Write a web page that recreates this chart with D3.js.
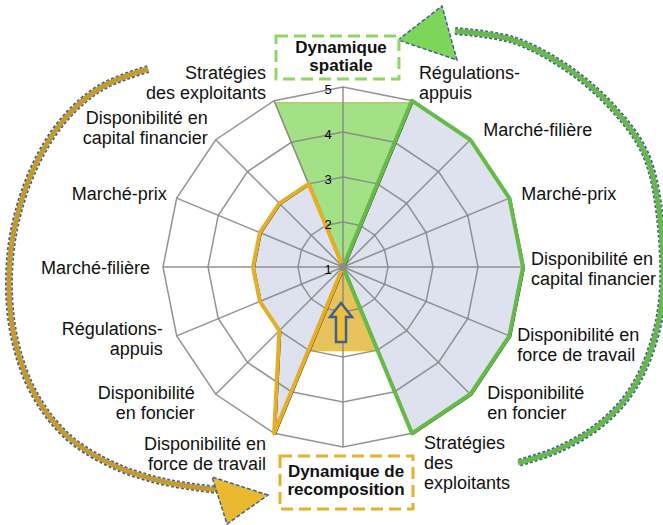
<!DOCTYPE html>
<html>
<head>
<meta charset="utf-8">
<script src="https://cdn.jsdelivr.net/npm/d3@7"></script>
<style>
  body { margin: 0; background: #fff; }
  svg text { font-family: "Liberation Sans", Arial, Helvetica, sans-serif; }
</style>
</head>
<body>
<div id="chart"></div>
<script>
// 16 axes, clockwise from the top; the top and bottom axes carry no label
const axisLabels = [
  [],
  ["Régulations-", "appuis"],
  ["Marché-filière"],
  ["Marché-prix"],
  ["Disponibilité en", "capital financier"],
  ["Disponibilité en", "force de travail"],
  ["Disponibilité", "en foncier"],
  ["Stratégies", "des", "exploitants"],
  [],
  ["Disponibilité en", "force de travail"],
  ["Disponibilité", "en foncier"],
  ["Régulations-", "appuis"],
  ["Marché-filière"],
  ["Marché-prix"],
  ["Disponibilité en", "capital financier"],
  ["Stratégies", "des exploitants"]
];
const ticks = [1, 2, 3, 4, 5];

// series (scale 1 to 5)
const overallValues   = [1, 5, 5, 5, 5, 5, 5, 5, 1, 5, 3, 3, 3, 3, 3, 3];
const spatialValues   = [1, 5, 5, 5, 5, 5, 5, 5, 1, 1, 1, 1, 1, 1, 1, 1];
const recompValues    = [1, 1, 1, 1, 1, 1, 1, 1, 1, 5, 3, 3, 3, 3, 3, 3];
// shaded sectors
const spatialSector   = [4.65, 4.95, 1, 1, 1, 1, 1, 1, 1, 1, 1, 1, 1, 1, 1, 4.95];
const recompSector    = [1, 1, 1, 1, 1, 1, 1, 3, 2.85, 3, 1, 1, 1, 1, 1, 1];

const width = 663, height = 525;
const cx = 343, cy = 267, radius = 180;
const n = axisLabels.length;

const svg = d3.select("#chart").append("svg")
  .attr("width", width)
  .attr("height", height);

const r = d3.scaleLinear().domain([1, 5]).range([0, radius]);
const angle = i => i * 2 * Math.PI / n;

const radar = d3.lineRadial()
  .angle((d, i) => angle(i))
  .radius(d => r(d))
  .curve(d3.curveLinearClosed);

const g = svg.append("g").attr("transform", `translate(${cx},${cy})`);

// fills
g.append("path").attr("d", radar(overallValues))
  .attr("fill", "#dde2ee").attr("stroke", "none");
g.append("path").attr("d", radar(spatialSector))
  .attr("fill", "#a2e186").attr("stroke", "#b2cc6c").attr("stroke-width", 1.5);
g.append("path").attr("d", radar(recompSector))
  .attr("fill", "#e8c25c").attr("stroke", "#f0c43a").attr("stroke-width", 2);

// grid
ticks.slice(1).forEach(t => {
  g.append("path")
    .attr("d", radar(d3.range(n).map(() => t)))
    .attr("fill", "none").attr("stroke", "#878787").attr("stroke-width", 1.5)
    .attr("opacity", 0.9);
});
d3.range(n).forEach(i => {
  const a = angle(i);
  g.append("line")
    .attr("x1", 0).attr("y1", 0)
    .attr("x2", r(5) * Math.sin(a)).attr("y2", -r(5) * Math.cos(a))
    .attr("stroke", "#878787").attr("stroke-width", 1.5).attr("opacity", 0.9);
});

// lines
g.append("path").attr("d", radar(overallValues))
  .attr("transform", "translate(1.2,0.8)")
  .attr("fill", "none").attr("stroke", "#111").attr("stroke-width", 1.6)
  .attr("stroke-linejoin", "round");
g.append("path").attr("d", radar(spatialValues))
  .attr("fill", "none").attr("stroke", "#66bb48").attr("stroke-width", 4)
  .attr("stroke-linejoin", "round");
g.append("path").attr("d", radar(recompValues))
  .attr("fill", "none").attr("stroke", "#e4af27").attr("stroke-width", 4)
  .attr("stroke-linejoin", "round");

g.append("circle").attr("r", 4).attr("fill", "#8a8a8a");

// tick labels along the top axis
g.selectAll(".tick").data(ticks).enter().append("text")
  .attr("x", -15).attr("y", d => -r(d) + 2)
  .attr("dy", "0.35em")
  .attr("text-anchor", "middle")
  .style("font-size", "13px")
  .text(d => d);

// axis labels: offset of first baseline from the outer vertex
const labelOffsets = [
  null, [7, -22], [13, -4], [12, 2], [8, -2], [8, 5], [17, 5], [12, 16],
  null, [-8, 17], [-21, 5], [-14, -1], [-13, 7], [-10, 2], [-8, -16], [-8, -22]
];
axisLabels.forEach((lines, i) => {
  if (!lines.length) return;
  const a = angle(i);
  const vx = r(5) * Math.sin(a), vy = -r(5) * Math.cos(a);
  const off = labelOffsets[i];
  const t = g.append("text")
    .attr("text-anchor", i < n / 2 ? "start" : "end")
    .style("font-size", "18px")
    .attr("fill", "#111");
  lines.forEach((line, k) => {
    t.append("tspan")
      .attr("x", vx + off[0])
      .attr("y", vy + off[1] + k * 20)
      .text(line);
  });
});

// hollow arrow in the recomposition sector
const arrow = [[0, -37], [11, -23], [5, -23], [5, 2], [-5, 2], [-5, -23], [-11, -23]];
g.append("path")
  .attr("transform", "translate(-2,73)")
  .attr("d", "M" + arrow.join("L") + "Z")
  .attr("fill", "#efc036").attr("stroke", "#42608f").attr("stroke-width", 2.5)
  .attr("stroke-linejoin", "miter");

// curved arrows round the chart
const curve = d3.line().curve(d3.curveCatmullRom);
const greenArc = [[455, 31], [513, 40], [567, 68], [613, 108], [645, 153], [659, 210],
  [662, 300], [648, 358], [627, 397], [597, 427], [557, 450], [518, 463]];
const goldArc = [[148, 69], [100, 88], [62, 122], [33, 170], [14, 230], [9, 290],
  [16, 345], [35, 395], [68, 437], [115, 466], [165, 482], [218, 490]];

function band(points, color) {
  svg.append("path").attr("d", curve(points))
    .attr("fill", "none").attr("stroke", "#44618f").attr("stroke-width", 8)
    .attr("stroke-dasharray", "3,2");
  svg.append("path").attr("d", curve(points))
    .attr("fill", "none").attr("stroke", color).attr("stroke-width", 5);
}
band(greenArc, "#69b84c");
band(goldArc, "#c49b2d");

svg.append("path").attr("d", "M398,40L442,6L457,60Z")
  .attr("fill", "#7dd65a").attr("stroke", "#44618f").attr("stroke-width", 1.5)
  .attr("stroke-dasharray", "4,2");
svg.append("path").attr("d", "M268,495L212,477L227,524Z")
  .attr("fill", "#ebb92f").attr("stroke", "#44618f").attr("stroke-width", 1.5)
  .attr("stroke-dasharray", "4,2");

// dashed boxes
function box(x, y, w, h, color, lines, tx, ty) {
  svg.append("rect").attr("x", x).attr("y", y).attr("width", w).attr("height", h)
    .attr("fill", "#fff").attr("stroke", color).attr("stroke-width", 3)
    .attr("stroke-dasharray", "12,6");
  const t = svg.append("text").attr("text-anchor", "middle")
    .style("font-size", "17px").style("font-weight", "bold").attr("fill", "#111");
  lines.forEach((line, k) => {
    t.append("tspan").attr("x", tx).attr("y", ty + k * 18).text(line);
  });
}
box(276, 36, 123, 43, "#8bd866", ["Dynamique", "spatiale"], 341, 53);
box(280, 456, 133, 53, "#e2b22e", ["Dynamique de", "recomposition"], 346, 477);
</script>
</body>
</html>
